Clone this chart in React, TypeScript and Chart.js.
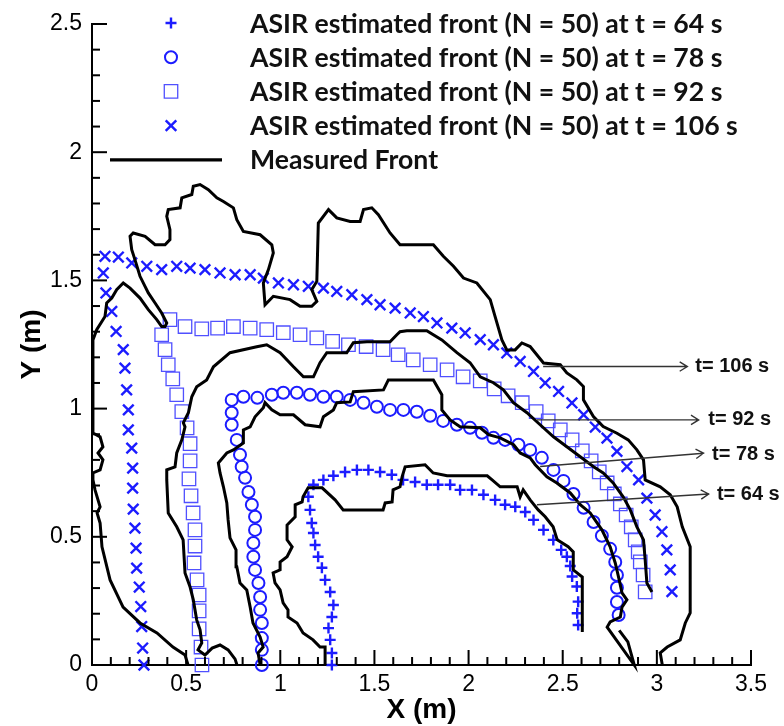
import React, { useEffect, useRef } from "react";
import { Chart, registerables } from "chart.js";
import { drawPoint } from "chart.js/helpers";

Chart.register(...registerables);

// ASIR estimated fronts (N = 50), points as [x (m), y (m)]
const asirT64: number[][] = [
  [1.274, 0], [1.274, 0.047], [1.265, 0.098], [1.256, 0.144], [1.274, 0.187], [1.282, 0.234],
  [1.265, 0.285], [1.238, 0.332], [1.221, 0.379], [1.201, 0.422], [1.185, 0.468], [1.176, 0.515],
  [1.167, 0.554], [1.158, 0.605], [1.149, 0.656], [1.176, 0.703], [1.229, 0.722], [1.282, 0.738],
  [1.344, 0.753], [1.407, 0.761], [1.468, 0.761], [1.53, 0.753], [1.592, 0.742], [1.652, 0.722],
  [1.716, 0.714], [1.778, 0.703], [1.838, 0.703], [1.902, 0.703], [1.955, 0.683], [2.018, 0.683],
  [2.079, 0.664], [2.141, 0.644], [2.194, 0.625], [2.248, 0.617], [2.301, 0.597], [2.345, 0.566],
  [2.398, 0.527], [2.45, 0.488], [2.492, 0.449], [2.522, 0.422], [2.54, 0.386], [2.55, 0.345],
  [2.575, 0.306], [2.582, 0.247], [2.577, 0.202], [2.582, 0.156],
];

const asirT78: number[][] = [
  [0.902, 0], [0.902, 0.059], [0.902, 0.105], [0.902, 0.164], [0.893, 0.215], [0.893, 0.265],
  [0.884, 0.32], [0.866, 0.371], [0.857, 0.422], [0.857, 0.476], [0.866, 0.527], [0.866, 0.578],
  [0.849, 0.625], [0.831, 0.675], [0.813, 0.73], [0.795, 0.773], [0.786, 0.82], [0.769, 0.878],
  [0.742, 0.937], [0.742, 0.984], [0.742, 1.034], [0.804, 1.046], [0.878, 1.042], [0.955, 1.054],
  [1.016, 1.062], [1.088, 1.062], [1.158, 1.054], [1.229, 1.046], [1.3, 1.046], [1.371, 1.034],
  [1.442, 1.023], [1.513, 1.007], [1.583, 0.995], [1.654, 0.995], [1.725, 0.988], [1.796, 0.972],
  [1.865, 0.952], [1.938, 0.937], [2.008, 0.925], [2.071, 0.906], [2.132, 0.886], [2.194, 0.878],
  [2.265, 0.859], [2.327, 0.839], [2.389, 0.808], [2.451, 0.761], [2.504, 0.718], [2.557, 0.667],
  [2.611, 0.613], [2.664, 0.558], [2.708, 0.504], [2.752, 0.453], [2.779, 0.402], [2.788, 0.351],
  [2.788, 0.301], [2.788, 0.246], [2.797, 0.195],
];

const asirT92: number[][] = [
  [0.584, 0], [0.579, 0.07], [0.569, 0.141], [0.569, 0.211], [0.569, 0.273], [0.558, 0.332],
  [0.542, 0.398], [0.547, 0.464], [0.547, 0.527], [0.537, 0.593], [0.526, 0.66], [0.515, 0.726],
  [0.521, 0.796], [0.521, 0.863], [0.505, 0.925], [0.477, 0.988], [0.45, 1.054], [0.429, 1.116],
  [0.405, 1.171], [0.388, 1.23], [0.37, 1.288], [0.414, 1.347], [0.494, 1.32], [0.583, 1.311],
  [0.667, 1.314], [0.751, 1.32], [0.84, 1.314], [0.928, 1.308], [1.016, 1.296], [1.105, 1.288],
  [1.194, 1.276], [1.278, 1.262], [1.362, 1.249], [1.456, 1.242], [1.546, 1.23], [1.626, 1.21],
  [1.706, 1.19], [1.796, 1.171], [1.886, 1.151], [1.971, 1.124], [2.062, 1.108], [2.136, 1.077],
  [2.21, 1.05], [2.285, 1.023], [2.359, 0.988], [2.423, 0.952], [2.487, 0.917], [2.55, 0.878],
  [2.604, 0.835], [2.651, 0.796], [2.694, 0.753], [2.736, 0.71], [2.774, 0.667], [2.806, 0.628],
  [2.837, 0.585], [2.864, 0.539], [2.885, 0.488], [2.901, 0.441], [2.912, 0.402], [2.927, 0.351],
  [2.938, 0.285],
];

const asirT106: number[][] = [
  [0.276, 0], [0.269, 0.066], [0.264, 0.15], [0.259, 0.228], [0.251, 0.304], [0.237, 0.378],
  [0.234, 0.456], [0.228, 0.534], [0.219, 0.608], [0.216, 0.69], [0.216, 0.768], [0.211, 0.846],
  [0.193, 0.917], [0.193, 0.995], [0.184, 1.073], [0.175, 1.158], [0.166, 1.23], [0.128, 1.301],
  [0.105, 1.379], [0.074, 1.451], [0.06, 1.529], [0.069, 1.594], [0.14, 1.591], [0.211, 1.568],
  [0.291, 1.555], [0.37, 1.542], [0.45, 1.555], [0.521, 1.548], [0.6, 1.542], [0.68, 1.529],
  [0.76, 1.522], [0.84, 1.522], [0.91, 1.509], [0.99, 1.49], [1.07, 1.483], [1.149, 1.477],
  [1.229, 1.47], [1.3, 1.457], [1.38, 1.444], [1.46, 1.425], [1.53, 1.405], [1.61, 1.392],
  [1.69, 1.373], [1.76, 1.359], [1.832, 1.334], [1.911, 1.314], [1.982, 1.295], [2.062, 1.269],
  [2.132, 1.249], [2.203, 1.217], [2.274, 1.184], [2.345, 1.145], [2.407, 1.1], [2.478, 1.067],
  [2.549, 1.022], [2.611, 0.976], [2.673, 0.928], [2.735, 0.885], [2.788, 0.833], [2.841, 0.774],
  [2.903, 0.722], [2.947, 0.651], [2.991, 0.585], [3.027, 0.52], [3.053, 0.449], [3.071, 0.371],
  [3.08, 0.286],
];

// Measured fire fronts, traced outlines as [x (m), y (m)]
const measuredT64: number[][] = [
  [1.238, 0], [1.238, 0.07], [1.211, 0.07], [1.174, 0.098], [1.121, 0.125], [1.089, 0.164],
  [1.041, 0.187], [1.041, 0.215], [1.015, 0.242], [0.999, 0.293], [0.972, 0.32], [0.962, 0.359],
  [0.999, 0.371], [0.999, 0.402], [1.036, 0.422], [1.063, 0.461], [1.036, 0.488], [1.036, 0.546],
  [1.079, 0.578], [1.079, 0.625], [1.116, 0.636], [1.121, 0.656], [1.148, 0.691], [1.222, 0.691],
  [1.291, 0.644], [1.334, 0.605], [1.546, 0.605], [1.557, 0.632], [1.594, 0.636], [1.599, 0.683],
  [1.636, 0.695], [1.647, 0.734], [1.663, 0.773], [1.769, 0.781], [1.812, 0.749], [1.886, 0.738],
  [2.099, 0.738], [2.125, 0.722], [2.168, 0.695], [2.258, 0.695], [2.274, 0.656], [2.29, 0.683],
  [2.327, 0.644], [2.37, 0.605], [2.407, 0.578], [2.449, 0.539], [2.471, 0.488], [2.529, 0.461],
  [2.556, 0.441], [2.556, 0.371], [2.604, 0.343], [2.604, 0.129],
];

const measuredT78: number[][] = [
  [0.893, 0], [0.882, 0.047], [0.909, 0.07], [0.893, 0.109], [0.855, 0.164], [0.84, 0.226],
  [0.822, 0.293], [0.786, 0.32], [0.769, 0.383], [0.765, 0.449], [0.733, 0.496], [0.723, 0.566],
  [0.716, 0.632], [0.698, 0.695], [0.68, 0.749], [0.671, 0.788], [0.716, 0.827], [0.751, 0.839],
  [0.804, 0.866], [0.804, 0.917], [0.84, 0.929], [0.866, 0.968], [0.91, 1.003], [0.919, 1.023],
  [0.955, 0.995], [0.999, 0.976], [1.07, 0.976], [1.132, 0.937], [1.211, 0.929], [1.229, 0.968],
  [1.282, 0.995], [1.3, 1.023], [1.371, 1.026], [1.388, 1.066], [1.548, 1.073], [1.574, 1.112],
  [1.813, 1.112], [1.858, 1.054], [1.858, 0.995], [1.902, 0.956], [1.955, 0.929], [2.062, 0.925],
  [2.106, 0.898], [2.168, 0.886], [2.239, 0.859], [2.274, 0.827], [2.327, 0.808], [2.354, 0.781],
  [2.416, 0.734], [2.469, 0.71], [2.54, 0.671], [2.593, 0.625], [2.646, 0.593], [2.708, 0.527],
  [2.752, 0.461], [2.779, 0.398], [2.8, 0.332], [2.815, 0.281], [2.841, 0.254], [2.815, 0.226],
  [2.806, 0.187], [2.752, 0.168], [2.736, 0.148], [2.88, 0], [2.846, 0.09], [2.8, 0.135],
];

const measuredT92: number[][] = [
  [0.77, 0], [0.76, 0.023], [0.723, 0.059], [0.68, 0.078], [0.638, 0.066], [0.6, 0.039],
  [0.563, 0.059], [0.583, 0.086], [0.574, 0.137], [0.556, 0.176], [0.538, 0.254], [0.521, 0.304],
  [0.494, 0.359], [0.484, 0.488], [0.45, 0.539], [0.405, 0.593], [0.397, 0.722], [0.397, 0.761],
  [0.441, 0.773], [0.45, 0.827], [0.477, 0.878], [0.494, 0.929], [0.485, 0.945], [0.512, 0.984],
  [0.53, 1.046], [0.556, 1.085], [0.609, 1.112], [0.645, 1.163], [0.733, 1.218], [0.875, 1.241],
  [0.928, 1.249], [0.999, 1.218], [1.07, 1.163], [1.123, 1.124], [1.176, 1.124], [1.211, 1.179],
  [1.247, 1.218], [1.353, 1.218], [1.388, 1.257], [1.46, 1.261], [1.583, 1.261], [1.619, 1.288],
  [1.636, 1.3], [1.672, 1.304], [1.778, 1.304], [1.858, 1.268], [1.938, 1.218], [2.008, 1.179],
  [2.062, 1.124], [2.132, 1.101], [2.185, 1.073], [2.238, 1.023], [2.31, 0.984], [2.38, 0.937],
  [2.451, 0.89], [2.522, 0.851], [2.593, 0.812], [2.664, 0.773], [2.715, 0.749], [2.768, 0.71],
  [2.821, 0.656], [2.859, 0.605], [2.894, 0.539], [2.929, 0.488], [2.938, 0.41], [2.947, 0.32],
  [2.974, 0.285],
];

const measuredT106: number[][] = [
  [0.51, 0], [0.494, 0.039], [0.43, 0.07], [0.345, 0.125], [0.255, 0.164], [0.165, 0.226],
  [0.096, 0.332], [0.053, 0.461], [0.043, 0.554], [0.027, 0.593], [0.043, 0.617], [0.016, 0.683],
  [0.005, 0.722], [0.005, 0.749], [0.043, 0.761], [0.058, 0.8], [0.032, 0.827], [0.058, 0.851],
  [0.043, 0.89], [0.005, 0.905], [0.005, 1.268], [0.025, 1.308], [0.069, 1.359], [0.078, 1.412],
  [0.105, 1.431], [0.131, 1.464], [0.166, 1.49], [0.202, 1.47], [0.255, 1.431], [0.299, 1.386],
  [0.344, 1.347], [0.37, 1.32], [0.388, 1.32], [0.397, 1.334], [0.37, 1.373], [0.335, 1.412],
  [0.299, 1.451], [0.255, 1.516], [0.228, 1.581], [0.211, 1.62], [0.202, 1.672], [0.219, 1.685],
  [0.282, 1.672], [0.335, 1.639], [0.388, 1.639], [0.414, 1.659], [0.414, 1.698], [0.397, 1.75],
  [0.405, 1.776], [0.468, 1.783], [0.477, 1.822], [0.53, 1.835], [0.538, 1.867], [0.574, 1.874],
  [0.618, 1.854], [0.663, 1.822], [0.698, 1.808], [0.751, 1.783], [0.769, 1.737], [0.804, 1.691],
  [0.893, 1.678], [0.955, 1.639], [0.963, 1.607], [0.937, 1.542], [0.91, 1.49], [0.919, 1.405],
  [0.963, 1.438], [1.052, 1.425], [1.105, 1.399], [1.167, 1.399], [1.194, 1.418], [1.167, 1.464],
  [1.194, 1.496], [1.202, 1.724], [1.256, 1.776], [1.3, 1.744], [1.371, 1.73], [1.424, 1.73],
  [1.442, 1.776], [1.486, 1.783], [1.521, 1.756], [1.583, 1.685], [1.636, 1.639], [1.813, 1.639],
  [1.866, 1.594], [1.92, 1.555], [1.973, 1.509], [2.044, 1.49], [2.115, 1.425], [2.141, 1.359],
  [2.177, 1.268], [2.203, 1.229], [2.247, 1.229], [2.283, 1.256], [2.327, 1.242], [2.398, 1.178],
  [2.487, 1.171], [2.522, 1.139], [2.575, 1.112], [2.61, 1.086], [2.61, 1.034], [2.663, 0.969],
  [2.715, 0.93], [2.788, 0.904], [2.848, 0.878], [2.894, 0.839], [2.929, 0.8], [2.938, 0.722],
  [3.018, 0.695], [3.071, 0.664], [3.108, 0.617], [3.135, 0.539], [3.177, 0.461], [3.177, 0.203],
  [3.151, 0.164], [3.124, 0.098], [3.055, 0.07], [3.018, 0.047], [3.029, 0],
];

const legendLabels = [
  "ASIR estimated front (N = 50) at t = 64 s",
  "ASIR estimated front (N = 50) at t = 78 s",
  "ASIR estimated front (N = 50) at t = 92 s",
  "ASIR estimated front (N = 50) at t = 106 s",
  "Measured Front",
];

// Time call-outs: arrow tail, arrow head and label anchor in data units
const timeLabels = ["t= 106 s", "t= 92 s", "t= 78 s", "t= 64 s"];
const arrowFrom = [[2.396, 1.164], [2.363, 0.956], [2.38, 0.774], [2.363, 0.625]];
const arrowTo = [[3.162, 1.164], [3.222, 0.956], [3.248, 0.826], [3.275, 0.667]];
const labelAt = [[3.204, 1.164], [3.273, 0.956], [3.293, 0.82], [3.319, 0.664]];

const X_MAX = 3.5;
const Y_MAX = 2.5;
const MAJOR_STEP = 0.5;

const BLUE = "rgb(28,28,255)";
const BLUE_LIGHT = "rgb(80,80,255)";
const SANS = "'Liberation Sans', Arial, sans-serif";

const toXY = (pts: number[][]) => pts.map(([x, y]) => ({ x, y }));
const plainNumber = (v: number | string) => String(Number(v));

// Inward major (0.5) and minor (0.1) tick marks on the left and bottom axes
function drawInnerTicks(chart: any) {
  const { ctx, chartArea } = chart;
  const xs = chart.scales.x;
  const ys = chart.scales.y;
  const w = 2;
  ctx.save();
  ctx.fillStyle = "#000";
  const nx = Math.round(X_MAX * 10);
  for (let k = 0; k <= nx; k++) {
    const px = xs.getPixelForValue(k / 10);
    const len = k % 5 === 0 ? 15 : 8;
    ctx.fillRect(px - w / 2, chartArea.bottom - len, w, len);
  }
  const ny = Math.round(Y_MAX * 10);
  for (let k = 0; k <= ny; k++) {
    const py = ys.getPixelForValue(k / 10);
    const len = k % 5 === 0 ? 15 : 8;
    ctx.fillRect(chartArea.left, py - w / 2, len, w);
  }
  ctx.restore();
}

// Arrows pointing at each measured front with its time label
function drawTimeArrows(chart: any) {
  const { ctx } = chart;
  const xs = chart.scales.x;
  const ys = chart.scales.y;
  ctx.save();
  ctx.strokeStyle = "#333";
  ctx.lineWidth = 1.4;
  timeLabels.forEach((label, i) => {
    const x0 = xs.getPixelForValue(arrowFrom[i][0]);
    const y0 = ys.getPixelForValue(arrowFrom[i][1]);
    const x1 = xs.getPixelForValue(arrowTo[i][0]);
    const y1 = ys.getPixelForValue(arrowTo[i][1]);
    const a = Math.atan2(y1 - y0, x1 - x0);
    const head = 9;
    ctx.beginPath();
    ctx.moveTo(x0, y0);
    ctx.lineTo(x1, y1);
    ctx.moveTo(x1 - head * Math.cos(a - 0.55), y1 - head * Math.sin(a - 0.55));
    ctx.lineTo(x1, y1);
    ctx.lineTo(x1 - head * Math.cos(a + 0.55), y1 - head * Math.sin(a + 0.55));
    ctx.stroke();
    ctx.font = `bold 20px ${SANS}`;
    ctx.fillStyle = "#111";
    ctx.textAlign = "left";
    ctx.textBaseline = "middle";
    ctx.fillText(label, xs.getPixelForValue(labelAt[i][0]), ys.getPixelForValue(labelAt[i][1]));
  });
  ctx.restore();
}

// Legend block in the upper part of the figure
function drawFrontLegend(chart: any) {
  const { ctx } = chart;
  const ds = chart.data.datasets;
  const symbolX = 171;
  const textX = 250;
  const rowTop = 23;
  const rowStep = 34.2;
  ctx.save();
  ctx.font = "bold 100px Lato";
  const widest = ctx.measureText(legendLabels[3]).width;
  const size = (100 * 488) / widest;
  legendLabels.forEach((label, i) => {
    const yy = rowTop + i * rowStep;
    if (i < 4) {
      const d = ds[i];
      ctx.save();
      ctx.strokeStyle = d.borderColor;
      ctx.fillStyle = "rgba(0,0,0,0)";
      ctx.lineWidth = d.borderWidth;
      drawPoint(ctx, { pointStyle: d.pointStyle, rotation: 0, radius: d.pointRadius, borderWidth: d.borderWidth } as any, symbolX, yy);
      ctx.restore();
    } else {
      ctx.save();
      ctx.strokeStyle = "#000";
      ctx.lineWidth = 3.2;
      ctx.beginPath();
      ctx.moveTo(110, yy);
      ctx.lineTo(222, yy);
      ctx.stroke();
      ctx.restore();
    }
    ctx.font = `bold ${size}px Lato`;
    ctx.fillStyle = "#111";
    ctx.textAlign = "left";
    ctx.textBaseline = "middle";
    ctx.fillText(label, textX, yy + 1);
  });
  ctx.restore();
}

const overlays = {
  id: "frontOverlays",
  afterDatasetsDraw(chart: any) {
    drawTimeArrows(chart);
  },
  afterDraw(chart: any) {
    drawInnerTicks(chart);
    drawFrontLegend(chart);
  },
};

const markerSet = (data: number[][], style: string, radius: number, width: number, color: string) => ({
  data: toXY(data),
  showLine: false,
  pointStyle: style,
  pointRadius: radius,
  pointHoverRadius: radius,
  borderColor: color,
  pointBorderColor: color,
  backgroundColor: "rgba(0,0,0,0)",
  pointBackgroundColor: "rgba(0,0,0,0)",
  borderWidth: width,
  pointBorderWidth: width,
  clip: false as any,
  order: 2,
});

const frontSet = (data: number[][]) => ({
  data: toXY(data),
  showLine: true,
  pointRadius: 0,
  borderColor: "#000",
  borderWidth: 3,
  tension: 0,
  fill: false,
  clip: false as any,
  order: 1,
});

export default function App() {
  const canvasRef = useRef<HTMLCanvasElement>(null);

  useEffect(() => {
    const canvas = canvasRef.current;
    if (!canvas) return;
    const chart = new Chart(canvas, {
      type: "scatter",
      data: {
        datasets: [
          markerSet(asirT64, "cross", 5.5, 2.4, BLUE),
          markerSet(asirT78, "circle", 6, 2, BLUE),
          markerSet(asirT92, "rect", 9.5, 1.3, BLUE_LIGHT),
          markerSet(asirT106, "crossRot", 7.5, 2.4, BLUE),
          frontSet(measuredT64),
          frontSet(measuredT78),
          frontSet(measuredT92),
          frontSet(measuredT106),
        ] as any,
      },
      options: {
        responsive: false,
        animation: false,
        events: [],
        layout: { padding: { left: 0, top: 24, right: 33, bottom: 0 } },
        plugins: { legend: { display: false }, tooltip: { enabled: false } },
        scales: {
          x: {
            type: "linear",
            min: 0,
            max: X_MAX,
            ticks: {
              stepSize: MAJOR_STEP,
              padding: 6,
              color: "#000",
              maxRotation: 0,
              autoSkip: false,
              font: { family: SANS, size: 23 },
              callback: plainNumber,
            },
            grid: { display: false, drawTicks: false },
            border: { display: true, color: "#000", width: 2 },
            title: {
              display: true,
              text: "X (m)",
              color: "#000",
              font: { family: SANS, size: 28, weight: "bold" },
              padding: { top: 0, bottom: -1 },
            },
            afterFit: (s: any) => {
              s.height = 61;
            },
          },
          y: {
            type: "linear",
            min: 0,
            max: Y_MAX,
            ticks: {
              stepSize: MAJOR_STEP,
              padding: 10,
              color: "#000",
              autoSkip: false,
              font: { family: SANS, size: 23 },
              callback: plainNumber,
            },
            grid: { display: false, drawTicks: false },
            border: { display: true, color: "#000", width: 2 },
            title: {
              display: true,
              text: "Y (m)",
              color: "#000",
              font: { family: SANS, size: 28, weight: "bold" },
              padding: { top: 15, bottom: 0 },
            },
            afterFit: (s: any) => {
              s.width = 92;
            },
          },
        },
      },
      plugins: [overlays],
    } as any);
    return () => chart.destroy();
  }, []);

  return (
    <div style={{ position: "absolute", left: 0, top: 0, width: 784, height: 726, background: "#fff" }}>
      <canvas ref={canvasRef} width={784} height={726} style={{ display: "block", width: 784, height: 726 }} />
    </div>
  );
}
